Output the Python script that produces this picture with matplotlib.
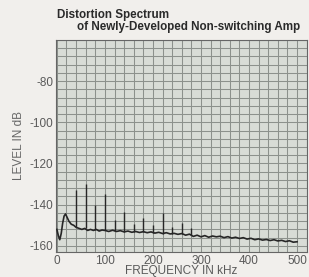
import numpy as np
import matplotlib
matplotlib.use("Agg")
import matplotlib.pyplot as plt
from matplotlib.ticker import MultipleLocator

# noise floor of the spectrum (kHz, dB)
floor_freq = [0, 3, 6, 9, 12, 15, 18, 21, 25, 30, 35, 40, 46, 52, 58, 64, 70, 76, 82, 88,
              94, 100, 108, 116, 124, 132, 140, 148, 156, 164, 172, 180, 188, 196, 204,
              212, 220, 228, 236, 244, 252, 260, 268, 276, 284, 292, 300, 308, 316, 324,
              332, 340, 348, 356, 364, 372, 380, 388, 396, 404, 412, 420, 428, 436, 444,
              452, 460, 468, 476, 484, 492, 500]
floor_db = [-152, -155, -157, -154, -149, -145.5, -144.5, -146, -148, -149.5, -150, -151,
            -151.5, -152, -151.5, -152.5, -152, -152.5, -152, -152.8, -152.3, -152.5, -153,
            -152.4, -153, -152.6, -153.2, -152.8, -153.4, -153, -153.5, -153.1, -153.6,
            -153.2, -153.8, -153.4, -154, -153.6, -154.2, -153.9, -154.4, -154, -154.8,
            -154.3, -155.4, -154.8, -155.6, -155, -155.8, -155.2, -155.6, -155.3, -156,
            -155.5, -156.2, -155.8, -156.4, -156, -156.7, -156.3, -157, -156.6, -157.2,
            -156.9, -157.4, -157, -157.6, -157.3, -157.9, -157.5, -158.2, -158]

# harmonic spikes
harm_freq = [40, 60, 80, 100, 120, 140, 160, 180, 200, 220, 240, 260, 280]
harm_db = [-132.7, -129.8, -140, -135, -147.3, -143.4, -149.5, -146.3, -150, -143.9,
           -151, -148.8, -151.5]
harm_base = [-151, -151.5, -152.3, -152.5, -152.7, -153.2, -153.2, -153.1, -153.6, -154,
             -154, -154.2, -154.6]

xticks = [0, 100, 200, 300, 400, 500]
yticks = [-80, -100, -120, -140, -160]

plt.rcParams['font.family'] = ['Liberation Sans', 'DejaVu Sans']

fig = plt.figure(figsize=(3.09, 2.77), dpi=100, facecolor='#f1efec')
ax = fig.add_axes([0.181, 0.090, 0.813, 0.766])
ax.set_facecolor('#d8dcd6')

ax.plot(floor_freq, floor_db, color='#262626', lw=1.2, zorder=3)
ax.vlines(harm_freq, harm_base, harm_db, color='#262626', lw=1.0, zorder=3)

ax.set_xlim(-2, 521)
ax.set_ylim(-163, -60)
ax.xaxis.set_minor_locator(MultipleLocator(20))
ax.yaxis.set_minor_locator(MultipleLocator(4))
ax.set_xticks(xticks)
ax.set_yticks(yticks)
ax.set_yticklabels(['-%d' % abs(v) for v in yticks])
ax.grid(which='both', color='#8c918c', lw=0.75)
ax.set_axisbelow(True)
ax.tick_params(which='both', length=0, labelsize=8.5, labelcolor='#5a5a5a', pad=2)
for s in ax.spines.values():
    s.set_color('#666666')
    s.set_linewidth(0.8)

ax.set_xlabel('FREQUENCY IN kHz', fontsize=8.5, color='#5a5a5a', labelpad=-1)
ax.set_ylabel('LEVEL IN dB', fontsize=8.5, color='#666666', labelpad=3)

fig.text(57/309, 1 - 15/277, 'Distortion Spectrum', fontsize=8.4, fontweight='bold',
         color='#2a2a2a', va='center')
fig.text(77/309, 1 - 27/277, 'of Newly-Developed Non-switching Amp', fontsize=8.4,
         fontweight='bold', color='#2a2a2a', va='center')

fig.savefig('out.png', dpi=100, facecolor=fig.get_facecolor())
